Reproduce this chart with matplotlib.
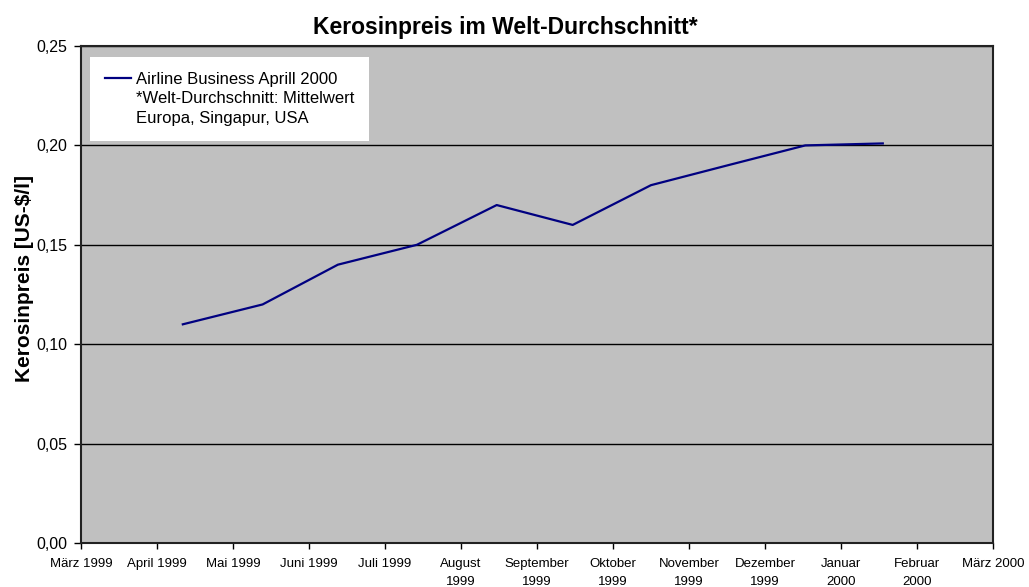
import matplotlib
matplotlib.use("Agg")
import matplotlib.pyplot as plt
from matplotlib.ticker import FuncFormatter
from matplotlib.lines import Line2D

plt.rcParams['font.family'] = ['Liberation Sans', 'DejaVu Sans']

# month labels on the x axis (März 1999 = position 0)
month_labels = ["März 1999", "April 1999", "Mai 1999", "Juni 1999", "Juli 1999",
                "August\n1999", "September\n1999", "Oktober\n1999", "November\n1999",
                "Dezember\n1999", "Januar\n2000", "Februar\n2000", "März 2000"]

# data points, position in months after März 1999
point_pos = [1.34, 2.39, 3.38, 4.42, 5.47, 6.47, 7.50, 8.51, 9.53, 10.55]
kerosin_price = [0.11, 0.12, 0.14, 0.15, 0.17, 0.16, 0.18, 0.19, 0.20, 0.201]

legend_lines = ["Airline Business Aprill 2000",
                "*Welt-Durchschnitt: Mittelwert",
                "Europa, Singapur, USA"]


def main():
    fig = plt.figure(figsize=(10.29, 5.87), dpi=100)
    ax = fig.add_axes([0.0787, 0.075, 0.8863, 0.8466])
    ax.set_facecolor("#c0c0c0")

    ax.plot(point_pos, kerosin_price, color="#000080", linewidth=1.6)

    ax.set_xlim(0, len(month_labels) - 1)
    ax.set_ylim(0, 0.25)
    ax.set_xticks(range(len(month_labels)))
    ax.set_xticklabels(month_labels, fontsize=9.5, linespacing=1.6)
    ax.set_yticks([0, 0.05, 0.10, 0.15, 0.20, 0.25])
    ax.yaxis.set_major_formatter(FuncFormatter(lambda v, p: f"{v:.2f}".replace(".", ",")))
    ax.tick_params(axis="y", labelsize=11.5, length=5, width=1, direction="out", pad=5)
    ax.tick_params(axis="x", length=4, width=1, direction="out", pad=7)

    ax.grid(axis="y", color="black", linewidth=1)
    ax.set_axisbelow(True)
    for sp in ax.spines.values():
        sp.set_linewidth(1.5)
        sp.set_color("#222222")

    ax.set_title("Kerosinpreis im Welt-Durchschnitt*", fontsize=16.5, fontweight="bold",
                 pad=9, x=0.465)
    ax.set_ylabel("Kerosinpreis [US-$/l]", fontsize=15, fontweight="bold")
    ax.yaxis.set_label_coords(-0.052, 0.533)

    handles = [Line2D([], [], color="#000080", linewidth=1.6),
               Line2D([], [], color="none"),
               Line2D([], [], color="none")]
    leg = ax.legend(handles, legend_lines, loc="upper left", bbox_to_anchor=(0.01, 0.978),
                    borderaxespad=0, fontsize=12, frameon=True, fancybox=False,
                    framealpha=1, edgecolor="white", handlelength=1.55, handletextpad=0.3,
                    labelspacing=0.27, borderpad=0.9)
    leg.get_frame().set_linewidth(0)

    fig.savefig("out.png", dpi=100)


if __name__ == "__main__":
    main()
